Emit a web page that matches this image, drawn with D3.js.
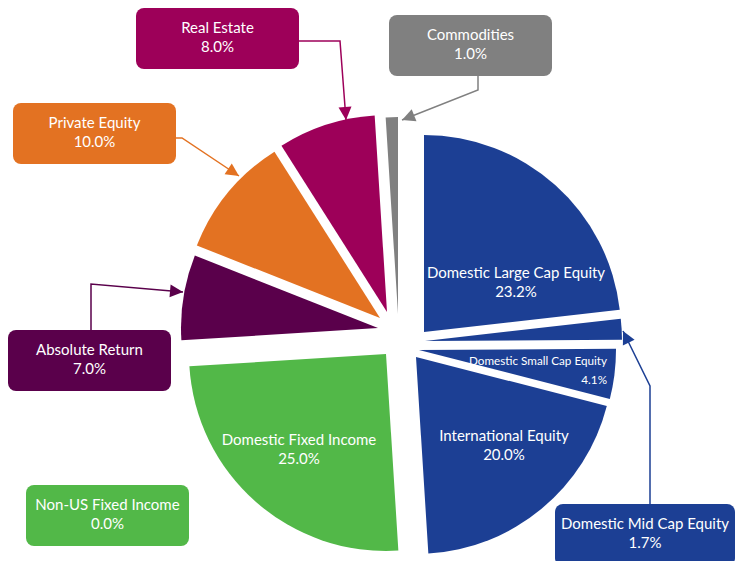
<!DOCTYPE html>
<html>
<head>
<meta charset="utf-8">
<script src="https://cdn.jsdelivr.net/npm/d3@7"></script>
<style>
body{margin:0;background:#fff;}
svg{display:block;font-family:Lato, "Open Sans", sans-serif;}
</style>
</head>
<body>
<script>
// DATA
const categories = ["Domestic Large Cap Equity", "Domestic Mid Cap Equity", "Domestic Small Cap Equity",
                    "International Equity", "Domestic Fixed Income", "Non-US Fixed Income",
                    "Absolute Return", "Private Equity", "Real Estate", "Commodities"];
const weights = [23.2, 1.7, 4.1, 20.0, 25.0, 0.0, 7.0, 10.0, 8.0, 1.0];
const colors = ["#1c3f94", "#1c3f94", "#1c3f94", "#1c3f94", "#52b848", "#52b848",
                "#5a004b", "#e37222", "#9d0059", "#808080"];

// LAYOUT
const width = 740, height = 561;
const center = {x: 399, y: 336};
const radius = 197;
// how far each slice is pulled out from the middle (by hand, like the original)
const shifts = [[25,-4],[26,5],[20,14],[17,21],[-13,18],[0,0],[-21,-8],[-19,-18],[-12,-24],[-1,-22]];

// callout boxes: [x, y, w, h] and the elbow line to the slice
const callouts = [
    {i: 8, box: [136, 8, 163, 61],  line: [[299,41],[340,41],[346,120]]},
    {i: 9, box: [389, 15, 163, 61], line: [[478,76],[478,90],[402,120]]},
    {i: 7, box: [13, 103, 163, 61], line: [[176,138],[182,138],[239,176]]},
    {i: 6, box: [8, 330, 163, 61],  line: [[91,330],[91,284],[183,292]]},
    {i: 5, box: [26, 485, 163, 61], line: null},
    {i: 1, box: [555, 504, 180, 62], line: [[650,504],[650,386],[623,331]]}
];

// labels written on the slices
const inside = [
    {i: 0, x: 516, y: 278, size: 15, gap: 19, anchor: "middle"},
    {i: 2, x: 607, y: 365, size: 11.7, gap: 19, anchor: "end"},
    {i: 3, x: 504, y: 441, size: 15, gap: 19, anchor: "middle"},
    {i: 4, x: 299, y: 445, size: 15, gap: 19, anchor: "middle"}
];

const fmt = v => d3.format(".1f")(v) + "%";

const svg = d3.select("body").append("svg")
    .attr("width", width)
    .attr("height", height);

const pie = d3.pie().sort(null).value(d => d)
const arc = d3.arc().innerRadius(0).outerRadius(radius);

const slices = pie(weights);

svg.append("g").classed("slices", true)
    .selectAll("path")
    .data(slices)
    .join("path")
    .attr("transform", (d, i) => `translate(${center.x + shifts[i][0]}, ${center.y + shifts[i][1]})`)
    .attr("d", arc)
    .attr("fill", (d, i) => colors[i]);

// ARROW MARKERS, one per colour
const defs = svg.append("defs");
callouts.filter(c => c.line).forEach(c => {
    defs.append("marker")
        .attr("id", "arrow" + c.i)
        .attr("markerUnits", "userSpaceOnUse")
        .attr("viewBox", "-14 -8 15 16")
        .attr("refX", 0).attr("refY", 0)
        .attr("markerWidth", 15).attr("markerHeight", 16)
        .attr("orient", "auto")
        .append("path")
        .attr("d", "M0,0 L-13,-6.5 L-13,6.5 Z")
        .attr("fill", colors[c.i]);
});

const line = d3.line();

const boxes = svg.append("g").classed("callouts", true);
callouts.forEach(c => {
    const [x, y, w, h] = c.box;
    if (c.line) {
        boxes.append("path")
            .attr("d", line(c.line))
            .attr("fill", "none")
            .attr("stroke", colors[c.i])
            .attr("stroke-width", 1.5)
            .attr("marker-end", `url(#arrow${c.i})`);
    }
    boxes.append("rect")
        .attr("x", x).attr("y", y)
        .attr("width", w).attr("height", h)
        .attr("rx", 8)
        .attr("fill", colors[c.i]);
    const t = boxes.append("text")
        .attr("text-anchor", "middle")
        .attr("fill", "#fff")
        .attr("font-size", 15);
    t.append("tspan").attr("x", x + w / 2).attr("y", y + h / 2 - 6).text(categories[c.i]);
    t.append("tspan").attr("x", x + w / 2).attr("y", y + h / 2 + 13).text(fmt(weights[c.i]));
});

const labels = svg.append("g").classed("labels", true);
inside.forEach(l => {
    const t = labels.append("text")
        .attr("text-anchor", l.anchor)
        .attr("fill", "#fff")
        .attr("font-size", l.size);
    t.append("tspan").attr("x", l.x).attr("y", l.y).text(categories[l.i]);
    t.append("tspan").attr("x", l.x).attr("y", l.y + l.gap).text(fmt(weights[l.i]));
});
</script>
</body>
</html>
